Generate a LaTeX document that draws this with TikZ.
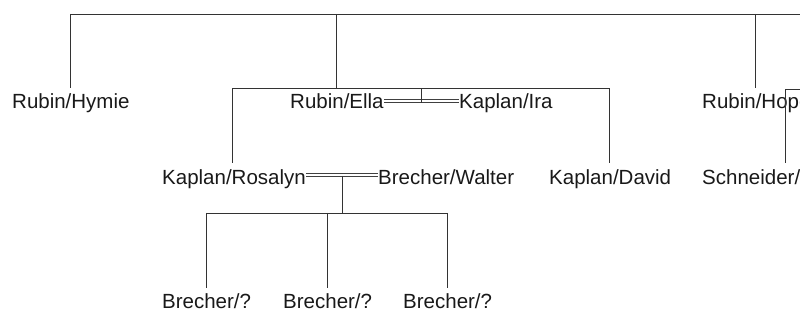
\documentclass[tikz,border=0pt]{standalone}
\usepackage{fontspec}
\setmainfont{Liberation Sans}
\usetikzlibrary{calc}
\begin{document}
\begin{tikzpicture}[x=1pt,y=-1pt,
  lbl/.style={anchor=base west,inner sep=0pt,font=\fontsize{20.5}{24}\selectfont,text=black!90},
  ln/.style={draw=black!80,line width=0.9pt},
  marr/.style={draw=black!75,double=white,double distance=2.2pt,line width=0.75pt}]
\useasboundingbox (0,0) rectangle (800,328);
\clip (0,0) rectangle (800,328);
% names
\node[lbl] (hymie) at (12,109) {Rubin/Hymie};
\node[lbl] (ella) at (290,109) {Rubin/Ella};
\node[lbl] (ira) at (459,109) {Kaplan/Ira};
\node[lbl] (hope) at (702,109) {Rubin/Hope};
\node[lbl] (rosalyn) at (162,185) {Kaplan/Rosalyn};
\node[lbl] (walter) at (378,185) {Brecher/Walter};
\node[lbl] (david) at (549,185) {Kaplan/David};
\node[lbl] (schneider) at (702,185) {Schneider/};
\node[lbl] (b1) at (162,309) {Brecher/?};
\node[lbl] (b2) at (283,309) {Brecher/?};
\node[lbl] (b3) at (403,309) {Brecher/?};
% top sibship
\coordinate (t1) at (70,14);
\coordinate (t2) at (336,14);
\coordinate (t3) at (755,14);
\coordinate (tend) at (812,14);
\coordinate (hymietop) at (70,88);
\coordinate (ellatop) at (336,88);
\coordinate (hopetop) at (755,88);
\draw[ln] (t1) -- (tend);
\draw[ln] (t1) -- (hymietop);
\draw[ln] (t2) -- (ellatop);
\draw[ln] (t3) -- (hopetop);
% Ella = Ira
\coordinate (m1l) at ([yshift=8pt]ella.base east);
\coordinate (m1r) at ([yshift=8pt]ira.base west);
\draw[marr] (m1l) -- (m1r);
\coordinate (m1mid) at ($(m1l)!0.5!(m1r)+(0,2)$);
\coordinate (f1) at ($(m1l)!0.5!(m1r)+(0,-13)$);
\draw[ln] (m1mid) -- (f1);
\coordinate (f1l) at (232,88);
\coordinate (f1r) at (609,88);
\coordinate (rosalyntop) at (232,163);
\coordinate (davidtop) at (609,163);
\draw[ln] (rosalyntop) -- (f1l) -- (f1r) -- (davidtop);
% Rosalyn = Walter
\coordinate (m2l) at ([yshift=10pt]rosalyn.base east);
\coordinate (m2r) at ([yshift=10pt]walter.base west);
\draw[marr] (m2l) -- (m2r);
\coordinate (m2mid) at ($(m2l)!0.5!(m2r)+(0,1)$);
\coordinate (f2) at ($(m2l)!0.5!(m2r)+(0,38)$);
\draw[ln] (m2mid) -- (f2);
\coordinate (f2l) at (b1.north |- f2);
\coordinate (f2c) at (b2.north |- f2);
\coordinate (f2r) at (b3.north |- f2);
\coordinate (b1top) at ([yshift=6pt]b1.north);
\coordinate (b2top) at ([yshift=6pt]b2.north);
\coordinate (b3top) at ([yshift=6pt]b3.north);
\draw[ln] (f2l) -- (f2r);
\draw[ln] (f2l) -- (b1top);
\draw[ln] (f2c) -- (b2top);
\draw[ln] (f2r) -- (b3top);
% Hope's family (cut off)
\coordinate (f3) at (785,89);
\coordinate (f3end) at (812,89);
\coordinate (schneidertop) at (785,163);
\draw[ln] (schneidertop) -- (f3) -- (f3end);
\end{tikzpicture}
\end{document}
